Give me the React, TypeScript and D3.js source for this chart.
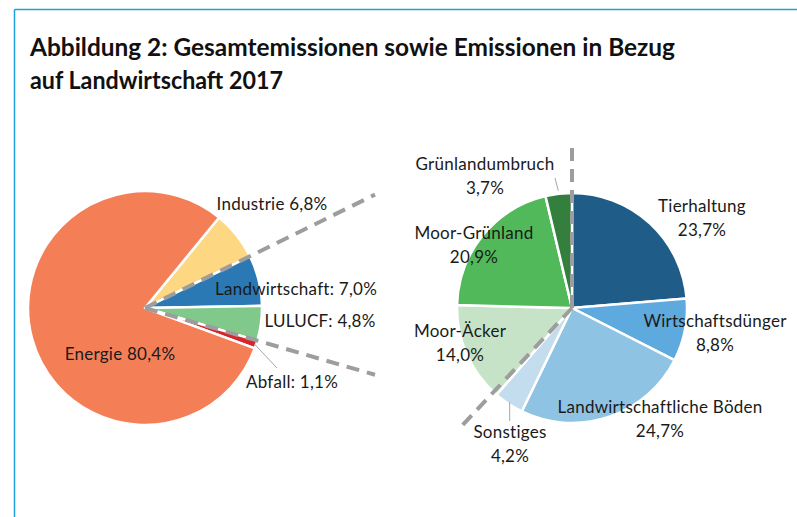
import React, { useRef, useEffect } from 'react';
import * as d3 from 'd3';

// Left pie: total emissions (drawing order, clockwise)
const leftNames = ['Industrie', 'Landwirtschaft', 'LULUCF', 'Abfall', 'Energie'];
const leftValues = [6.8, 7.0, 4.8, 1.1, 80.4];
const leftLabels = ['Industrie 6,8%', 'Landwirtschaft: 7,0%', 'LULUCF: 4,8%', 'Abfall: 1,1%', 'Energie 80,4%'];

// Right pie: agriculture-related emissions
const rightNames = ['Tierhaltung', 'Wirtschaftsdünger', 'Landwirtschaftliche Böden', 'Sonstiges', 'Moor-Äcker', 'Moor-Grünland', 'Grünlandumbruch'];
const rightValues = [23.7, 8.8, 24.7, 4.2, 14.0, 20.9, 3.7];

const titleLines = ['Abbildung 2: Gesamtemissionen sowie Emissionen in Bezug', 'auf Landwirtschaft 2017'];

const leftColors = ['#fdd782', '#2a78b4', '#80c98b', '#d7252a', '#f47f57'];
const rightColors = ['#1f5c87', '#5ea9dd', '#8fc3e4', '#c4ddee', '#c6e3c8', '#52b95a', '#357f3e'];

// hand placed label anchors (x center, first baseline)
const leftLabelPos = {
  Industrie: [272, 210],
  Landwirtschaft: [296, 295],
  LULUCF: [320, 327],
  Abfall: [292, 388],
  Energie: [120, 360],
};
const rightLabelPos = {
  'Tierhaltung': [702, 212],
  'Wirtschaftsdünger': [715, 327],
  'Landwirtschaftliche Böden': [660, 413],
  'Sonstiges': [510, 438],
  'Moor-Äcker': [460, 337],
  'Moor-Grünland': [474, 239],
  'Grünlandumbruch': [485, 170],
};

const fmt = (v) => d3.format('.1f')(v).replace('.', ',') + '%';
const deg = Math.PI / 180;

const App = () => {
  const ref = useRef(null);

  useEffect(() => {
    const svg = d3.select(ref.current);
    svg.selectAll('*').remove();

    const font = 'Lato, "Open Sans", sans-serif';
    const textColor = '#1a1a1a';
    const dashColor = '#9d9d9d';

    // frame lines
    svg.append('line')
      .attr('x1', 14.5).attr('y1', 9.5).attr('x2', 797).attr('y2', 9.5)
      .attr('stroke', '#1f9fd8').attr('stroke-width', 1.5);
    svg.append('line')
      .attr('x1', 14.5).attr('y1', 9.5).attr('x2', 14.5).attr('y2', 517)
      .attr('stroke', '#1f9fd8').attr('stroke-width', 1.5);

    // title
    const lens = [645, 253];
    titleLines.forEach((t, i) => {
      svg.append('text')
        .attr('x', 30)
        .attr('y', 56 + i * 33)
        .attr('textLength', lens[i])
        .attr('lengthAdjust', 'spacingAndGlyphs')
        .style('font-family', font)
        .style('font-weight', 700)
        .style('font-size', '24px')
        .attr('fill', '#111')
        .text(t);
    });

    // ---- left pie
    const lc = [145, 308];
    const lr = 117;
    const lStart = 39.3 * deg;
    const leftPie = d3.pie().sort(null).startAngle(lStart).endAngle(lStart + 2 * Math.PI);
    const leftArcs = leftPie(leftValues);
    const leftArc = d3.arc().innerRadius(0).outerRadius(lr);

    const lg = svg.append('g').attr('transform', `translate(${lc[0]},${lc[1]})`);
    lg.selectAll('path')
      .data(leftArcs)
      .join('path')
      .attr('d', leftArc)
      .attr('fill', (d, i) => leftColors[i])
      .attr('stroke', '#fff')
      .attr('stroke-width', 2.5)
      .attr('stroke-linejoin', 'round');

    // ---- right pie
    const rc = [572, 308];
    const rr = 115;
    const rightPie = d3.pie().sort(null);
    const rightArcs = rightPie(rightValues);
    const rightArc = d3.arc().innerRadius(0).outerRadius(rr);

    const rg = svg.append('g').attr('transform', `translate(${rc[0]},${rc[1]})`);
    rg.selectAll('path')
      .data(rightArcs)
      .join('path')
      .attr('d', rightArc)
      .attr('fill', (d, i) => rightColors[i])
      .attr('stroke', '#fff')
      .attr('stroke-width', 2.5)
      .attr('stroke-linejoin', 'round');

    // ---- dashed connector lines
    const dashLine = (g, angle, len) => {
      g.append('line')
        .attr('x1', 0).attr('y1', 0)
        .attr('x2', len * Math.sin(angle))
        .attr('y2', -len * Math.cos(angle))
        .attr('stroke', dashColor)
        .attr('stroke-width', 4)
        .attr('stroke-dasharray', '13 8');
    };
    // left: along the Landwirtschaft and LULUCF outer edges, out to x = 375
    const upA = leftArcs[1].startAngle;
    const loA = leftArcs[2].endAngle;
    dashLine(lg, upA, 230 / Math.sin(upA));
    dashLine(lg, loA, 230 / Math.sin(loA));
    // right: along Tierhaltung start and Moor-Äcker start
    dashLine(rg, rightArcs[0].startAngle, 168);
    dashLine(rg, rightArcs[4].startAngle + 2 * deg, 166);

    // ---- leader lines
    const outerPt = (a, r) => [r * Math.sin(a), -r * Math.cos(a)];
    const abf = leftArcs[3];
    const p0 = outerPt((abf.startAngle + abf.endAngle) / 2, lr - 2);
    lg.append('line')
      .attr('x1', p0[0]).attr('y1', p0[1])
      .attr('x2', 277 - lc[0]).attr('y2', 368 - lc[1])
      .attr('stroke', '#a6a6a6').attr('stroke-width', 1);

    const gru = rightArcs[6];
    const p1 = outerPt((gru.startAngle + gru.endAngle) / 2, rr + 3);
    rg.append('line')
      .attr('x1', p1[0]).attr('y1', p1[1])
      .attr('x2', 555 - rc[0]).attr('y2', 178 - rc[1])
      .attr('stroke', '#a6a6a6').attr('stroke-width', 1);

    const son = rightArcs[3];
    const p2 = outerPt((son.startAngle + son.endAngle) / 2, rr - 2);
    rg.append('line')
      .attr('x1', p2[0]).attr('y1', p2[1])
      .attr('x2', p2[0]).attr('y2', 421 - rc[1])
      .attr('stroke', '#a6a6a6').attr('stroke-width', 1);

    // ---- labels
    const labelStyle = (t) => t
      .attr('text-anchor', 'middle')
      .style('font-family', font)
      .style('font-size', '17px')
      .style('letter-spacing', '0.25px')
      .attr('fill', textColor);

    leftNames.forEach((n, i) => {
      const [x, y] = leftLabelPos[n];
      svg.append('text')
        .attr('x', x).attr('y', y)
        .call(labelStyle)
        .text(leftLabels[i]);
    });

    rightNames.forEach((n, i) => {
      const [x, y] = rightLabelPos[n];
      const t = svg.append('text').call(labelStyle);
      t.append('tspan').attr('x', x).attr('y', y).text(n);
      t.append('tspan').attr('x', x).attr('y', y + 24).text(fmt(rightValues[i]));
    });
  }, []);

  return (
    <svg
      ref={ref}
      width={797}
      height={517}
      style={{ position: 'absolute', left: 0, top: 0, background: '#fff' }}
    />
  );
};

export default App;
